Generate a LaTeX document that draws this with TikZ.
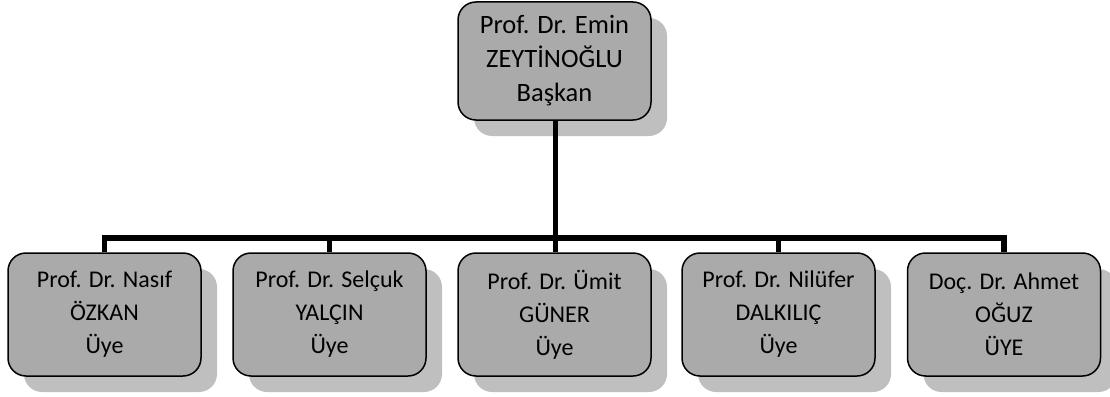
\documentclass[tikz,border=0pt]{standalone}
\usepackage{fontspec}
\setmainfont{Carlito}
\usetikzlibrary{shadows}
\definecolor{boxgray}{RGB}{170,170,170}
\definecolor{shadowgray}{RGB}{191,191,191}
\definecolor{lineshadow}{RGB}{150,150,150}
\begin{document}
\begin{tikzpicture}[x=1pt,y=-1pt,
  box/.style={draw=black, line width=1.5pt, fill=boxgray, rounded corners=18pt,
    minimum width=193pt, minimum height=123pt, inner sep=0pt, align=center,
    font=\fontsize{24}{33}\selectfont, text=black,
    drop shadow={shadow xshift=16pt, shadow yshift=-16pt, fill=shadowgray, opacity=1}},
  topbox/.style={box, minimum height=118pt, font=\fontsize{26.5}{34}\selectfont},
  conn/.style={line width=5.5pt, black, line join=miter},
  connshadow/.style={line width=5.5pt, lineshadow, line join=miter, shift={(-2,2)}}]
\useasboundingbox (0,0) rectangle (1110,396);
\node[topbox] (top) at (554.5,61) {Prof. Dr. Emin\\ZEYTİNOĞLU\\Başkan};
\node[box] (b1) at (104.5,314.5) {Prof. Dr. Nasıf\\ÖZKAN\\Üye};
\node[box] (b2) at (329.5,314.5) {Prof. Dr. Selçuk\\YALÇIN\\Üye};
\node[box] (b3) at (554.5,314.5) {Prof. Dr. Ümit\\GÜNER\\Üye};
\node[box] (b4) at (778.5,314.5) {Prof. Dr. Nilüfer\\DALKILIÇ\\Üye};
\node[box] (b5) at (1004,314.5) {Doç. Dr. Ahmet\\OĞUZ\\ÜYE};
\coordinate (bus) at (555.5,238);
\foreach \s in {connshadow,conn}{
  \draw[\s] ([xshift=1pt]top.south) -- (bus);
  \draw[\s] (b1.north) |- (bus) -| (b5.north);
  \draw[\s] (b2.north) -- (b2.north |- bus);
  \draw[\s] ([xshift=1pt]b3.north) -- (bus);
  \draw[\s] (b4.north) -- (b4.north |- bus);
}
\end{tikzpicture}
\end{document}
